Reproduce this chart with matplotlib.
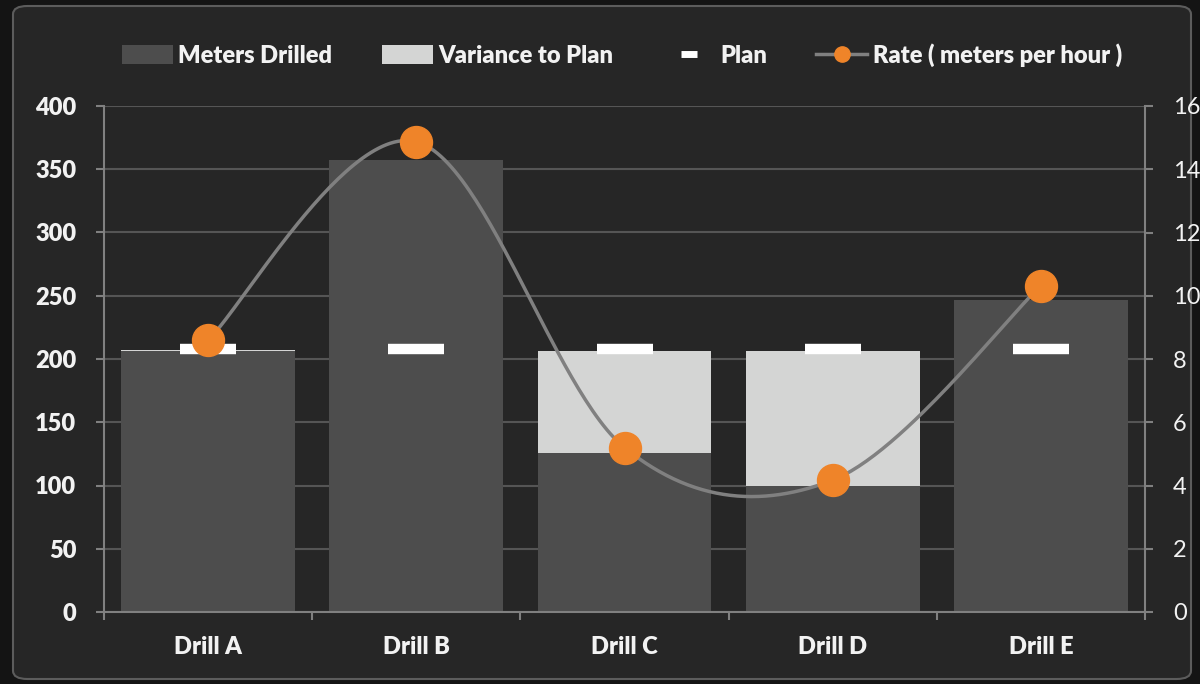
import numpy as np
import matplotlib
matplotlib.use('Agg')
import matplotlib.pyplot as plt
from matplotlib.patches import FancyBboxPatch, Patch
from matplotlib.lines import Line2D

plt.rcParams['font.family'] = ['Lato', 'DejaVu Sans']

drills = ['Drill A', 'Drill B', 'Drill C', 'Drill D', 'Drill E']
meters = [206, 357, 126, 100, 247]
variance = [1.5, 0, 80, 106, 0]
plan = [208, 208, 208, 208, 208]
rate = [8.6, 14.87, 5.2, 4.17, 10.32]
left_ticks = [0, 50, 100, 150, 200, 250, 300, 350, 400]
right_ticks = [0, 2, 4, 6, 8, 10, 12, 14, 16]

c_bg = '#141414'
c_panel = '#262626'
c_dark = '#4d4d4d'
c_light = '#d4d5d4'
c_axis = '#808080'
c_grid = '#555555'
c_text = '#f2f2f2'
c_orange = '#ef8429'
bold = 'heavy'

fig = plt.figure(figsize=(12, 6.84), dpi=100)
fig.patch.set_facecolor(c_bg)
panel = FancyBboxPatch((13/1200, 5/684), 1178/1200, 673/684,
                       boxstyle='round,pad=0,rounding_size=0.012',
                       transform=fig.transFigure, facecolor=c_panel,
                       edgecolor='#5c5c5c', linewidth=1.5, zorder=-10)
fig.patches.append(panel)

ax = fig.add_axes([104/1200, 1-612/684, (1145-104)/1200, (612-106)/684])
ax.set_facecolor('none')
ax2 = ax.twinx()

x = np.arange(len(drills))
w = 0.835
ax.bar(x, meters, width=w, color=c_dark, zorder=2)
ax.bar(x, variance, width=w, bottom=meters, color=c_light, zorder=2)
ax.plot(x, plan, linestyle='none', marker='_', markersize=40, markeredgewidth=7.5,
        color='white', zorder=3)

ax.set_xlim(-0.5, len(drills)-0.5)
ax.set_ylim(0, 400)
ax.set_yticks(left_ticks)
ax.yaxis.grid(True, color=c_grid, linewidth=1.5, zorder=0)
ax.set_axisbelow(True)
ax.set_xticks(np.arange(-0.5, len(drills), 1.0))
ax.set_xticklabels([])
ax.set_xticks(x, labels=drills, minor=True)
ax.tick_params(axis='x', which='major', direction='out', length=6, width=1.5, color=c_axis)
ax.tick_params(axis='x', which='minor', length=0, pad=17, labelsize=17, labelcolor=c_text)
ax.tick_params(axis='y', direction='out', length=6, width=1.5, color=c_axis,
               labelsize=17, labelcolor=c_text, pad=14)
for s in ['top', 'right']:
    ax.spines[s].set_visible(False)
for s in ['left', 'bottom']:
    ax.spines[s].set_color(c_axis)
    ax.spines[s].set_linewidth(1.5)

ax2.set_ylim(0, 16)
ax2.set_yticks(right_ticks)
ax2.tick_params(axis='y', direction='out', length=6, width=1.5, color=c_axis,
                labelsize=17, labelcolor=c_text, pad=14)
for s in ['top', 'left', 'bottom']:
    ax2.spines[s].set_visible(False)
ax2.spines['right'].set_color(c_axis)
ax2.spines['right'].set_linewidth(1.5)

# smoothed line like Excel (Catmull-Rom through the points)
px = np.array(x, dtype=float)
py = np.array(rate, dtype=float)
xs, ys = [], []
t = np.linspace(0, 1, 60)
n = len(px)
for i in range(n-1):
    i0, i3 = max(i-1, 0), min(i+2, n-1)
    p0 = np.array([px[i], py[i]])
    p3 = np.array([px[i+1], py[i+1]])
    c1 = p0 + (np.array([px[i+1], py[i+1]]) - np.array([px[i0], py[i0]])) / 6
    c2 = p3 - (np.array([px[i3], py[i3]]) - np.array([px[i], py[i]])) / 6
    b = ((1-t)**3)[:, None]*p0 + (3*(1-t)**2*t)[:, None]*c1 + (3*(1-t)*t**2)[:, None]*c2 + (t**3)[:, None]*p3
    xs.extend(b[:, 0]); ys.extend(b[:, 1])
ax2.plot(xs, ys, color=c_axis, linewidth=2.5, zorder=4)
ax2.plot(px, py, linestyle='none', marker='o', markersize=23, color=c_orange, zorder=5)

handles = [Patch(facecolor=c_dark), Patch(facecolor=c_light),
           Line2D([], [], linestyle='none', marker='_', markersize=11, markeredgewidth=5, color='white'),
           Line2D([], [], color=c_axis, linewidth=2.5, marker='o', markersize=11,
                  markerfacecolor=c_orange, markeredgecolor=c_orange)]
labels = ['Meters Drilled', 'Variance to Plan', 'Plan', 'Rate ( meters per hour )']
leg = fig.legend(handles, labels, loc='center', bbox_to_anchor=(622/1200, 1-55/684), ncol=4,
                 frameon=False, handlelength=2.15, handleheight=0.8, handletextpad=0.25,
                 columnspacing=2.1, prop={'weight': bold, 'size': 17})
for txt in leg.get_texts():
    txt.set_color(c_text)

fig.canvas.draw()
for tk in ax.yaxis.get_major_ticks():
    tk.label1.set_fontweight(bold)
for tk in ax.xaxis.get_minor_ticks():
    tk.label1.set_fontweight(bold)

fig.savefig('out.png', dpi=100, facecolor=c_bg)
